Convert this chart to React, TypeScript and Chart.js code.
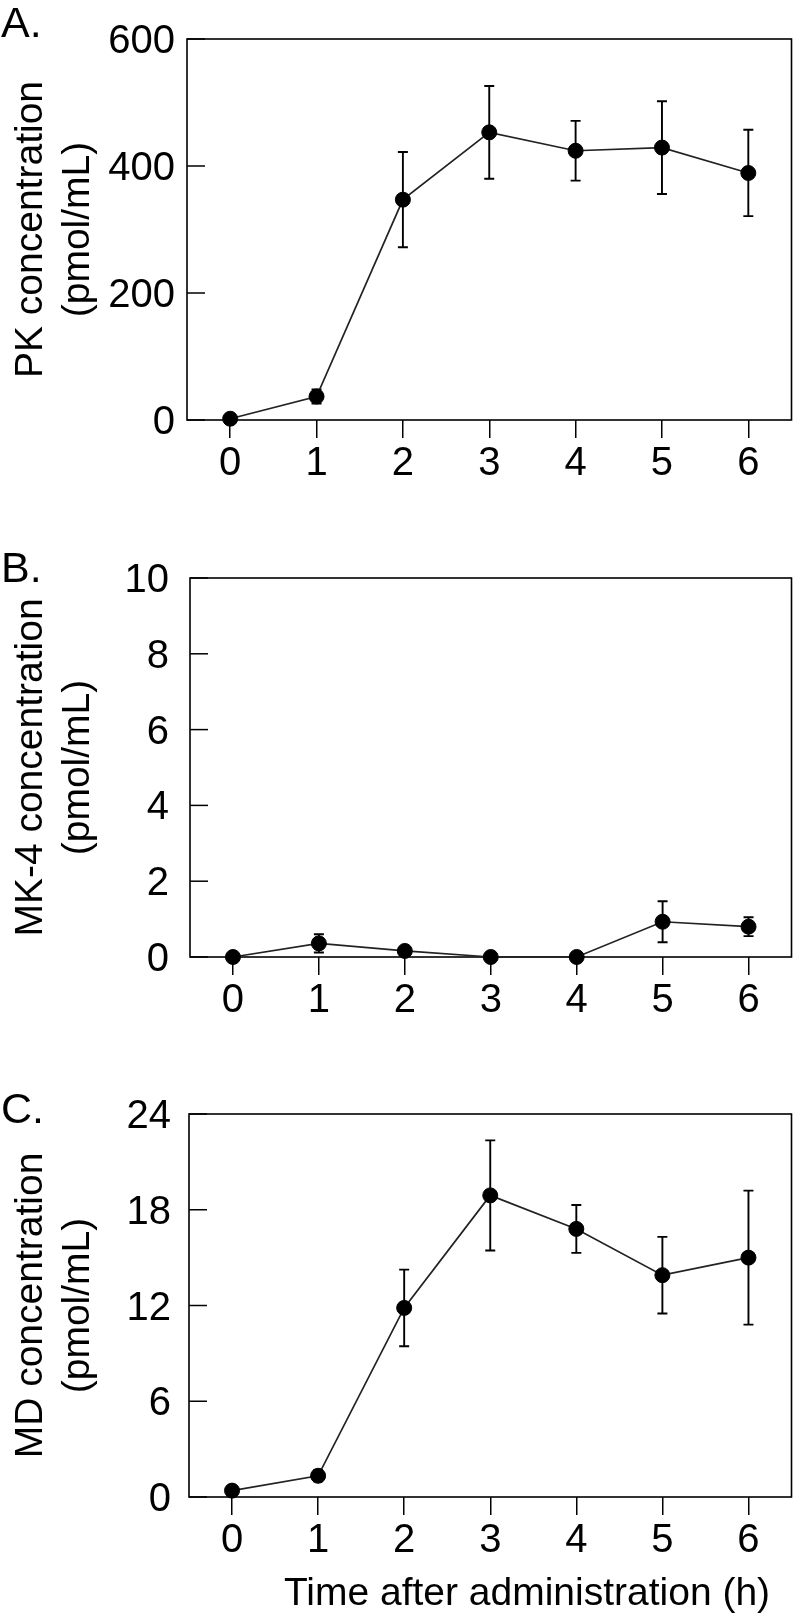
import React, { useEffect, useRef } from "react";
import { Chart, registerables } from "chart.js";

Chart.register(...registerables);

// ---------- data ----------
const timePoints = [0, 1, 2, 3, 4, 5, 6];
const xTickLabels = ["0", "1", "2", "3", "4", "5", "6"];

const pkMean = [2, 37, 347, 453, 424, 429, 389];
const pkErr = [3, 11, 75, 73, 47, 73, 68];
const pkTicks = [0, 200, 400, 600];

const mk4Mean = [0, 0.36, 0.16, 0, 0, 0.93, 0.8];
const mk4Err = [0, 0.24, 0.04, 0, 0, 0.54, 0.25];
const mk4Ticks = [0, 2, 4, 6, 8, 10];

const mdMean = [0.4, 1.33, 11.85, 18.9, 16.8, 13.9, 15.0];
const mdErr = [0.15, 0.35, 2.4, 3.45, 1.5, 2.4, 4.2];
const mdTicks = [0, 6, 12, 18, 24];

const yTitleUnit = "(pmol/mL)";
const xTitle = "Time after administration (h)";

const FONT = "'Liberation Sans', Arial, Helvetica, sans-serif";

type PanelCfg = {
  top: number;
  height: number;
  padTop: number;
  xAxisH: number;
  yAxisW: number;
  yTickPad: number;
  letter: string;
  letterBaseline: number;
  yTitle: string;
  mean: number[];
  err: number[];
  ticks: number[];
  showXTitle: boolean;
  xTitleBaseline?: number;
};

const panels: PanelCfg[] = [
  {
    top: 0, height: 500, padTop: 39, xAxisH: 80, yAxisW: 187, yTickPad: 12,
    letter: "A.", letterBaseline: 37, yTitle: "PK concentration",
    mean: pkMean, err: pkErr, ticks: pkTicks, showXTitle: false,
  },
  {
    top: 500, height: 540, padTop: 78, xAxisH: 83, yAxisW: 190, yTickPad: 21,
    letter: "B.", letterBaseline: 82, yTitle: "MK-4 concentration",
    mean: mk4Mean, err: mk4Err, ticks: mk4Ticks, showXTitle: false,
  },
  {
    top: 1040, height: 576, padTop: 74, xAxisH: 119, yAxisW: 189, yTickPad: 18,
    letter: "C.", letterBaseline: 83, yTitle: "MD concentration",
    mean: mdMean, err: mdErr, ticks: mdTicks, showXTitle: true, xTitleBaseline: 565,
  },
];

function Panel({ cfg }: { cfg: PanelCfg }) {
  const ref = useRef<HTMLCanvasElement>(null);

  useEffect(() => {
    if (!ref.current) return;

    const framePlugin = {
      id: "frameAndErrors",
      beforeDatasetsDraw(chart: any) {
        const { ctx, chartArea } = chart;
        const xs = chart.scales.x;
        const ys = chart.scales.y;
        ctx.save();
        ctx.strokeStyle = "#000";
        ctx.lineWidth = 1.6;
        ctx.strokeRect(chartArea.left, chartArea.top, chartArea.right - chartArea.left, chartArea.bottom - chartArea.top);
        // inward y ticks
        ctx.lineWidth = 1.5;
        cfg.ticks.forEach((v) => {
          const py = ys.getPixelForValue(v);
          ctx.beginPath();
          ctx.moveTo(chartArea.left, py);
          ctx.lineTo(chartArea.left + 18, py);
          ctx.stroke();
        });
        // error bars
        ctx.lineWidth = 1.9;
        timePoints.forEach((t, i) => {
          const e = cfg.err[i];
          if (!(e > 0)) return;
          const px = xs.getPixelForValue(t);
          const y1 = ys.getPixelForValue(cfg.mean[i] + e);
          const y2 = ys.getPixelForValue(Math.max(cfg.mean[i] - e, 0));
          ctx.beginPath();
          ctx.moveTo(px, y1);
          ctx.lineTo(px, y2);
          ctx.moveTo(px - 5, y1);
          ctx.lineTo(px + 5, y1);
          ctx.moveTo(px - 5, y2);
          ctx.lineTo(px + 5, y2);
          ctx.stroke();
        });
        ctx.restore();
      },
      afterDraw(chart: any) {
        const { ctx } = chart;
        ctx.save();
        ctx.fillStyle = "#000";
        ctx.textBaseline = "alphabetic";
        ctx.textAlign = "left";
        ctx.font = `43px ${FONT}`;
        ctx.fillText(cfg.letter, 1, cfg.letterBaseline);
        if (cfg.showXTitle && cfg.xTitleBaseline) {
          ctx.font = `39px ${FONT}`;
          ctx.textAlign = "center";
          ctx.fillText(xTitle, 527, cfg.xTitleBaseline);
        }
        ctx.restore();
      },
    };

    const chart = new Chart(ref.current, {
      type: "line",
      data: {
        datasets: [
          {
            data: timePoints.map((t, i) => ({ x: t, y: cfg.mean[i] })),
            borderColor: "#222",
            borderWidth: 1.7,
            pointRadius: 7.5,
            pointBackgroundColor: "#000",
            pointBorderColor: "#000",
            pointBorderWidth: 1,
            tension: 0,
            clip: false as any,
          },
        ],
      },
      options: {
        responsive: false,
        animation: false,
        layout: { padding: { top: cfg.padTop, right: 2, left: 0, bottom: 0 } },
        plugins: { legend: { display: false }, tooltip: { enabled: false } },
        scales: {
          x: {
            type: "linear",
            min: -0.5,
            max: 6.5,
            afterBuildTicks: (s: any) => {
              s.ticks = timePoints.map((v) => ({ value: v }));
            },
            afterFit: (s: any) => {
              s.height = cfg.xAxisH;
            },
            ticks: {
              callback: (v: any) => {
                const idx = timePoints.indexOf(Number(v));
                return idx >= 0 ? xTickLabels[idx] : "";
              },
              font: { family: FONT, size: 40 },
              color: "#000",
              padding: 2,
              maxRotation: 0,
              autoSkip: false,
            },
            grid: {
              display: true,
              drawOnChartArea: false,
              drawTicks: true,
              tickLength: 18,
              color: "#000",
              lineWidth: 1.5,
            },
            border: { display: false },
          },
          y: {
            type: "linear",
            min: cfg.ticks[0],
            max: cfg.ticks[cfg.ticks.length - 1],
            afterBuildTicks: (s: any) => {
              s.ticks = cfg.ticks.map((v) => ({ value: v }));
            },
            afterFit: (s: any) => {
              s.width = cfg.yAxisW;
            },
            ticks: {
              font: { family: FONT, size: 40 },
              color: "#000",
              padding: cfg.yTickPad,
              labelOffset: 3,
              autoSkip: false,
            },
            grid: { display: false, drawTicks: false },
            border: { display: false },
            title: {
              display: true,
              text: [cfg.yTitle, yTitleUnit],
              font: { family: FONT, size: 39, lineHeight: 1.22 },
              color: "#000",
              padding: { top: 7, bottom: 0 },
            },
          },
        },
      } as any,
      plugins: [framePlugin],
    });

    return () => chart.destroy();
  }, []);

  return (
    <div style={{ position: "absolute", left: 0, top: cfg.top, width: 800, height: cfg.height }}>
      <canvas ref={ref} width={800} height={cfg.height} style={{ display: "block", width: 800, height: cfg.height }} />
    </div>
  );
}

export default function App() {
  return (
    <div style={{ position: "absolute", left: 0, top: 0, width: 800, height: 1616, background: "#fff" }}>
      {panels.map((p) => (
        <Panel key={p.letter} cfg={p} />
      ))}
    </div>
  );
}
